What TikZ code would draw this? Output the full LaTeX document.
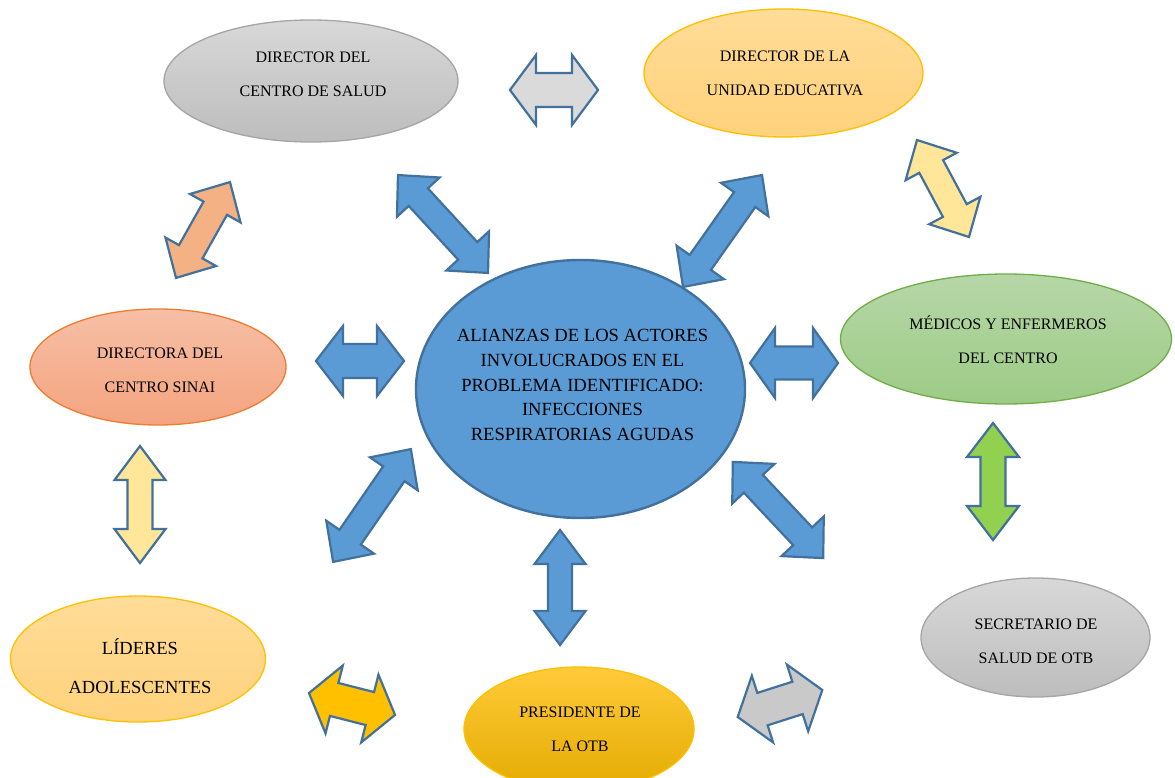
\documentclass[tikz,border=0pt]{standalone}
\usepackage{fontspec}
\setmainfont{Liberation Serif}
\usetikzlibrary{shapes.geometric}

\definecolor{arrowline}{HTML}{41719C}
\definecolor{arrowblue}{HTML}{5B9BD5}
\definecolor{arrowgray}{HTML}{DADADA}
\definecolor{arrowgraydark}{HTML}{C9C9C9}
\definecolor{arrowsalmon}{HTML}{F4B183}
\definecolor{arrowyellow}{HTML}{FFE699}
\definecolor{arrowgreen}{HTML}{92D050}
\definecolor{arrowgold}{HTML}{FFC000}

\definecolor{graytop}{HTML}{D8D8D8}
\definecolor{graybot}{HTML}{BDBDBD}
\definecolor{graybd}{HTML}{A5A5A5}
\definecolor{peachtop}{HTML}{FFDC98}
\definecolor{peachbot}{HTML}{FFD27C}
\definecolor{goldbd}{HTML}{FFC000}
\definecolor{greentop}{HTML}{B6D7A8}
\definecolor{greenbot}{HTML}{9DCB86}
\definecolor{greenbd}{HTML}{70AD47}
\definecolor{salmontop}{HTML}{F7BFA6}
\definecolor{salmonbot}{HTML}{F4A47F}
\definecolor{salmonbd}{HTML}{ED7D31}
\definecolor{otbtop}{HTML}{FFCB3A}
\definecolor{otbmid}{HTML}{FFC000}
\definecolor{otbbot}{HTML}{E4AB00}
\definecolor{centreblue}{HTML}{5B9BD5}

\tikzset{
  actor/.style={ellipse, inner sep=0pt, line width=1.3pt},
  smalltext/.style={align=center, inner sep=0pt, font=\fontsize{16}{34}\selectfont},
  blockarrow/.style={draw=arrowline, line width=2.2pt, line join=miter},
}

% double-headed block arrow: centre, rotation, half length,
% shaft half width, head half width, head length, fill colour
\newcommand\dblarrow[7]{%
  \draw[blockarrow, fill=#7, shift={(#1)}, rotate=#2]
    (-#3,0) -- (-#3+#6,#5) -- (-#3+#6,#4) -- (#3-#6,#4) -- (#3-#6,#5)
    -- (#3,0) -- (#3-#6,-#5) -- (#3-#6,-#4) -- (-#3+#6,-#4)
    -- (-#3+#6,-#5) -- cycle;}

\begin{document}
\begin{tikzpicture}[x=1pt,y=-1pt]
\useasboundingbox (0,0) rectangle (1175,778);
\fill[white] (0,0) rectangle (1175,778);
\clip (0,0) rectangle (1175,778);

% actors
\node[actor, minimum width=294pt, minimum height=122pt, draw=graybd,
      top color=graytop, bottom color=graybot] (salud) at (311,81) {};
\node[actor, minimum width=279pt, minimum height=128pt, draw=goldbd,
      top color=peachtop, bottom color=peachbot] (unidad) at (783.5,73) {};
\node[actor, minimum width=331pt, minimum height=130pt, draw=greenbd,
      top color=greentop, bottom color=greenbot] (medicos) at (1006,339) {};
\node[actor, minimum width=256pt, minimum height=116pt, draw=salmonbd,
      top color=salmontop, bottom color=salmonbot] (sinai) at (158,367) {};
\node[actor, minimum width=255pt, minimum height=126pt, draw=goldbd,
      top color=peachtop, bottom color=peachbot] (lideres) at (138,659) {};
\node[actor, minimum width=230pt, minimum height=124pt, draw=goldbd,
      top color=otbtop, middle color=otbmid, bottom color=otbbot] (otb) at (579,729) {};
\node[actor, minimum width=229pt, minimum height=119pt, draw=graybd,
      top color=graytop, bottom color=graybot] (secretario) at (1035.5,637.5) {};
\node[actor, minimum width=329pt, minimum height=258pt, draw=arrowline,
      line width=2.4pt, fill=centreblue] (centre) at (580.5,389) {};

% actor labels
\node[smalltext] (salud-t) at (313,74) {DIRECTOR DEL\\CENTRO DE SALUD};
\node[smalltext] (unidad-t) at (785,73.5) {DIRECTOR DE LA\\UNIDAD EDUCATIVA};
\node[smalltext] (medicos-t) at (1008,340) {MÉDICOS Y ENFERMEROS\\DEL CENTRO};
\node[smalltext] (sinai-t) at (160,370.5) {DIRECTORA DEL\\CENTRO SINAI};
\node[smalltext, font=\fontsize{18.5}{39}\selectfont] (lideres-t) at (140,666)
     {LÍDERES\\ADOLESCENTES};
\node[smalltext] (otb-t) at (580,729.5) {PRESIDENTE DE\\LA OTB};
\node[smalltext] (secretario-t) at (1036,641) {SECRETARIO DE\\SALUD DE OTB};
\node[align=center, inner sep=0pt, font=\fontsize{18.6}{24.7}\selectfont]
     (centre-t) at (582.5,385)
     {ALIANZAS DE LOS ACTORES\\INVOLUCRADOS EN EL\\PROBLEMA IDENTIFICADO:\\INFECCIONES\\RESPIRATORIAS AGUDAS};

% block arrows between the actors
\dblarrow{554,90}{0}{44}{17}{35}{26}{arrowgray}
\dblarrow{443,224}{-47.4}{66.5}{13}{29}{30}{arrowblue}
\dblarrow{722.5,231}{54.8}{68.5}{13}{29}{30}{arrowblue}
\dblarrow{203,230}{60.6}{55}{13.5}{29}{30}{arrowsalmon}
\dblarrow{943,188.5}{-61.8}{55}{13.5}{29}{30}{arrowyellow}
\dblarrow{360,361}{0}{44}{17}{35}{27}{arrowblue}
\dblarrow{794,363}{0}{44}{16.5}{35}{25}{arrowblue}
\dblarrow{140,504.5}{90}{58.5}{12.5}{25.5}{34}{arrowyellow}
\dblarrow{993,481.5}{90}{58.5}{12.5}{26}{34}{arrowgreen}
\dblarrow{372,505.5}{55.4}{68.5}{13}{29}{30}{arrowblue}
\dblarrow{778,510}{-46.8}{66}{13}{29}{30}{arrowblue}
\dblarrow{560,587.5}{90}{57.5}{12}{25.5}{34}{arrowblue}
\dblarrow{352,704}{-14.3}{44.4}{17}{35}{26}{arrowgold}
\dblarrow{780,703.5}{17.7}{44.4}{17}{35}{26}{arrowgraydark}
\end{tikzpicture}
\end{document}
